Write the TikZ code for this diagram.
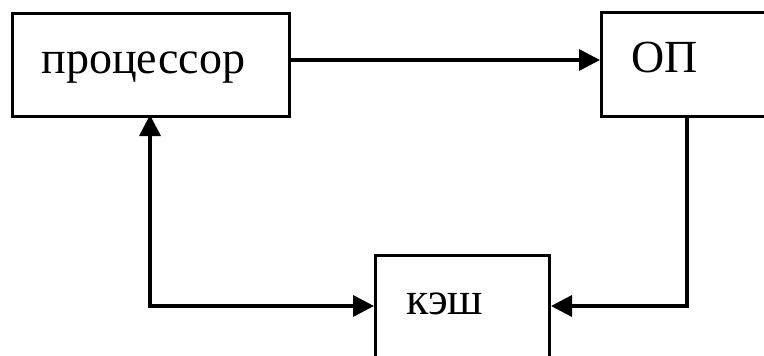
\documentclass[tikz,border=0pt]{standalone}
\usepackage{fontspec}
\setmainfont{Liberation Serif}
\usetikzlibrary{arrows.meta}
\begin{document}
\begin{tikzpicture}[x=1pt,y=-1pt,
  box/.style={draw, line width=3pt, rectangle, inner ysep=0pt, align=left,
    font=\fontsize{46}{54}\selectfont},
  link/.style={line width=3.5pt, -{Triangle[length=21pt,width=21pt]}},
  biglink/.style={line width=3.5pt, {Triangle[length=21pt,width=21pt]}-{Triangle[length=21pt,width=21pt]}}]
  \useasboundingbox (0,0) rectangle (764,356);
  \fill[white] (0,0) rectangle (764,356);
  % blocks
  \node[box, minimum height=103pt, inner xsep=29pt, text width=219pt,
        text height=27pt, text depth=10pt, anchor=north west] (cpu) at (11,12) {процессор};
  \node[box, minimum height=104pt, inner xsep=30pt, text width=115pt,
        text height=30pt, text depth=14pt, anchor=north west] (ram) at (600,11) {ОП};
  \node[box, minimum height=112pt, inner xsep=31pt, text width=112pt,
        text height=21pt, text depth=15pt, anchor=north west] (cache) at (374,254) {кэш};
  % connections
  \coordinate (ramdown) at (687,115);
  \coordinate (cpudown) at (150,115);
  \draw[link] (cpu.east |- 0,60) -- (ram.west |- 0,60);
  \draw[link] (ramdown) |- (cache.east |- 0,306);
  \draw[biglink] (cpudown) |- (cache.west |- 0,306);
\end{tikzpicture}
\end{document}
